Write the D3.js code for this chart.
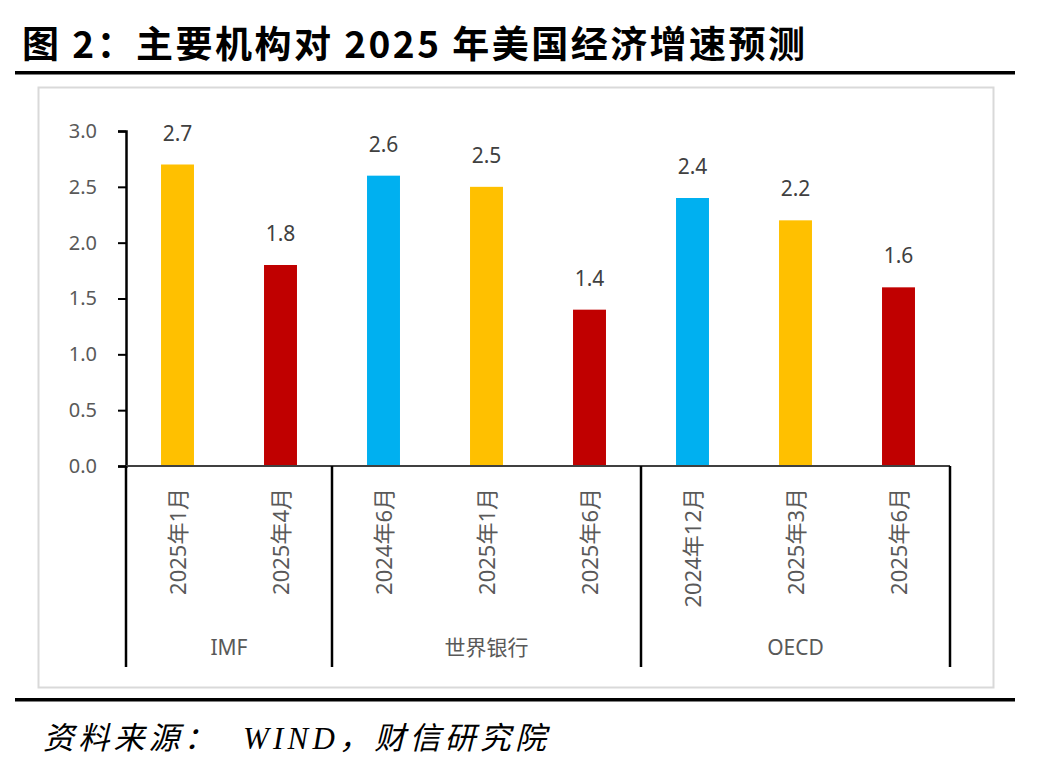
<!DOCTYPE html>
<html>
<head>
<meta charset="utf-8">
<script src="https://cdn.jsdelivr.net/npm/d3@7"></script>
<style>
  body { margin: 0; background: #fff; }
  svg text { font-family: "Noto Sans", "Noto Sans CJK SC", sans-serif; }
</style>
</head>
<body>
<div class="chart"></div>
<script>
// data
var categories = ["2025年1月", "2025年4月", "2024年6月", "2025年1月", "2025年6月", "2024年12月", "2025年3月", "2025年6月"];
var values = [2.7, 1.8, 2.6, 2.5, 1.4, 2.4, 2.2, 1.6];
var colorKeys = ["mid", "late", "early", "mid", "late", "early", "mid", "late"];
var groups = ["IMF", "世界银行", "OECD"];
var groupSizes = [2, 3, 3];
var yTicks = [0, 0.5, 1, 1.5, 2, 2.5, 3];

var colors = { early: "#00B0F0", mid: "#FFC000", late: "#C00000" };

var svgWidth = 1054;
var svgHeight = 770;

var svg = d3.select(".chart")
  .append("svg")
  .attr("width", svgWidth)
  .attr("height", svgHeight);

// title
svg.append("text")
  .attr("x", 22)
  .attr("y", 58)
  .style("font-family", "'Noto Sans CJK SC', sans-serif")
  .style("font-weight", 700)
  .style("font-size", "37px")
  .attr("textLength", 783)
  .attr("lengthAdjust", "spacing")
  .attr("fill", "#000")
  .text("图 2：主要机构对 2025 年美国经济增速预测");

svg.append("rect")
  .attr("x", 15).attr("y", 71)
  .attr("width", 1000).attr("height", 3.5)
  .attr("fill", "#000");

// chart frame
svg.append("rect")
  .attr("x", 38.5).attr("y", 87.5)
  .attr("width", 955).attr("height", 600)
  .attr("fill", "none")
  .attr("stroke", "#d9d9d9")
  .attr("stroke-width", 2);

svg.append("rect")
  .attr("x", 15).attr("y", 698)
  .attr("width", 1000).attr("height", 3.5)
  .attr("fill", "#000");

// source
svg.append("text")
  .attr("x", 43)
  .attr("y", 749)
  .style("font-family", "'Liberation Serif', 'Noto Sans CJK SC', serif")
  .style("font-style", "italic")
  .style("font-size", "31px")
  .attr("textLength", 503)
  .attr("lengthAdjust", "spacing")
  .attr("fill", "#000")
  .attr("xml:space", "preserve")
  .text("资料来源：  WIND，财信研究院");

// plot area
var plot = { left: 126, right: 950, top: 131, bottom: 466 };

var x = d3.scaleBand()
  .domain(d3.range(categories.length))
  .range([plot.left, plot.right])
  .paddingInner(0.68)
  .paddingOuter(0.34);

var y = d3.scaleLinear()
  .domain([0, 3])
  .range([plot.bottom, plot.top]);

var chartGroup = svg.append("g");

// bars
chartGroup.selectAll(".bar")
  .data(values)
  .enter()
  .append("rect")
  .attr("class", "bar")
  .attr("x", (d, i) => x(i))
  .attr("y", d => y(d))
  .attr("width", x.bandwidth())
  .attr("height", d => y(0) - y(d))
  .attr("fill", (d, i) => colors[colorKeys[i]]);

// value labels
chartGroup.selectAll(".val")
  .data(values)
  .enter()
  .append("text")
  .attr("class", "val")
  .attr("x", (d, i) => x(i) + x.bandwidth() / 2)
  .attr("y", d => y(d) - 24)
  .attr("text-anchor", "middle")
  .style("font-size", "21px")
  .attr("fill", "#404040")
  .text(d => d.toFixed(1));

// y axis
var leftAxis = d3.axisLeft(y)
  .tickValues(yTicks)
  .tickSize(8)
  .tickPadding(21)
  .tickFormat(d3.format(".1f"));

var yAxis = chartGroup.append("g")
  .attr("transform", `translate(${plot.left}, 0)`)
  .call(leftAxis);
yAxis.select(".domain").attr("stroke", "#000").attr("stroke-width", 2.5);
yAxis.selectAll(".tick line").attr("stroke", "#000").attr("stroke-width", 2);
yAxis.selectAll(".tick text")
  .style("font-size", "20px")
  .style("font-family", "'Noto Sans', sans-serif")
  .attr("fill", "#595959");

// x axis line
chartGroup.append("line")
  .attr("x1", plot.left).attr("x2", plot.right)
  .attr("y1", y(0)).attr("y2", y(0))
  .attr("stroke", "#404040")
  .attr("stroke-width", 2);

// category labels (rotated)
chartGroup.selectAll(".cat")
  .data(categories)
  .enter()
  .append("text")
  .attr("class", "cat")
  .attr("transform", (d, i) => `translate(${x(i) + x.bandwidth() / 2 + 8}, 488) rotate(-90)`)
  .attr("text-anchor", "end")
  .style("font-size", "22px")
  .attr("fill", "#595959")
  .text(d => d);

// group boundaries and labels
var step = x.step();
var bounds = [0];
groupSizes.forEach(function(n, i) { bounds.push(bounds[i] + n); });

chartGroup.selectAll(".gline")
  .data(bounds)
  .enter()
  .append("line")
  .attr("class", "gline")
  .attr("x1", d => plot.left + d * step)
  .attr("x2", d => plot.left + d * step)
  .attr("y1", y(0))
  .attr("y2", 667)
  .attr("stroke", "#000")
  .attr("stroke-width", 2.5);

chartGroup.selectAll(".glabel")
  .data(groups)
  .enter()
  .append("text")
  .attr("class", "glabel")
  .attr("x", (d, i) => plot.left + (bounds[i] + bounds[i + 1]) / 2 * step)
  .attr("y", 655)
  .attr("text-anchor", "middle")
  .style("font-size", "21px")
  .attr("fill", "#595959")
  .text(d => d);
</script>
</body>
</html>
